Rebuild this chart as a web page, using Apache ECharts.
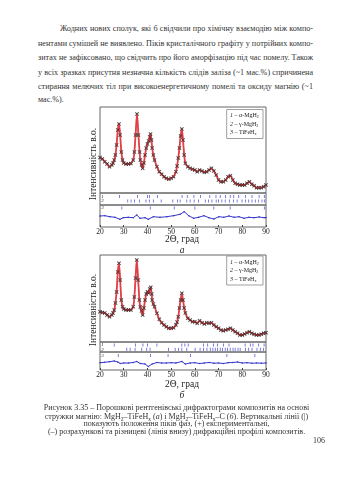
<!DOCTYPE html>
<html><head><meta charset="utf-8">
<script src="https://cdn.jsdelivr.net/npm/echarts@6/dist/echarts.min.js"></script>
<style>
body{margin:0;width:339px;height:480px;background:#fff;overflow:hidden;position:relative;font-family:"Liberation Serif",serif;color:#333}
#chart{position:absolute;left:0;top:0;width:339px;height:480px}
.j{position:absolute;white-space:nowrap;text-align:justify;text-align-last:justify;font-size:8.15px;line-height:10px}
.c{position:absolute;left:20px;width:313px;text-align:center;white-space:nowrap;font-size:8px;line-height:8px}
sub{font-size:5.5px;vertical-align:-1.5px;line-height:0}
</style></head><body>
<div class="j" style="left:60px;width:253px;top:24px">Жодних нових сполук, які б свідчили про хімічну взаємодію між компо-</div>
<div class="j" style="left:38px;width:275px;top:38.5px">нентами сумішей не виявлено. Піків кристалічного графіту у потрійних компо-</div>
<div class="j" style="left:38px;width:275px;top:53px">зитах не зафіксовано, що свідчить про його аморфізацію під час помелу. Також</div>
<div class="j" style="left:38px;width:275px;top:67.7px">у всіх зразках присутня незначна кількість слідів заліза (~1 мас.%) спричинена</div>
<div class="j" style="left:38px;width:275px;top:82px">стирання мелючих тіл при високоенергетичному помелі та оксиду магнію (~1</div>
<div class="j" style="left:38px;top:94.5px;text-align:left;text-align-last:left">мас.%).</div>
<div id="chart"></div>
<div class="c" style="top:404.3px">Рисунок 3.35 – Порошкові рентгенівські дифрактограми композитів на основі</div>
<div class="c" style="top:412.7px">стружки магнію: MgH<sub>2</sub>–TiFeH<sub>x</sub> (<i>а</i>) і MgH<sub>2</sub>–TiFeH<sub>x</sub>–C (<i>б</i>). Вертикальні лінії (|)</div>
<div class="c" style="top:420.3px">показують положення піків фаз, (+) експериментальні,</div>
<div class="c" style="top:428.3px">(–) розрахункові та різницеві (лінія внизу) дифракційні профілі композитів.</div>
<div style="position:absolute;left:313px;top:436.7px;font-size:8px;line-height:8px">106</div>
<script>
// ---- data: panel a (MgH2–TiFeHx) ----
const aTheta = [20,21,22,23,24,25,25.5,26,26.5,27,27.5,28,28.5,29,29.5,30,31,32,33,34,34.5,35,35.6,36.2,36.7,37,37.5,38,38.5,39,39.5,40,40.5,41,41.3,41.7,42,42.5,43,44,45,46,47,48,49,50,51,52,52.5,53,53.5,54,54.5,55,55.5,56,57,58,59,60,61,62,63,64,65,66,67,68,69,70,71,72,73,74,75,76,77,78,79,80,81,82,83,84,85,86,87,88,89,90];
const aObs = [35.5,34,31.3,29,26.3,28,30,33,38,48,63,69,58,41,33,30,29,29,29.5,33,41,58,79,58,41,33,28,24.7,30,38,45,49,52,56,59,53,45,38,33,26.3,21.3,18.7,16.3,14.7,13.7,14.7,16.3,21.3,27,35,45,57,64,53,38,29.7,26.3,24.7,23.7,23,21.3,23,22,20.7,21.3,23,24.7,22,18,13,11.3,11.3,13,16.3,17.3,13,9.7,8.7,8,8,8,9.7,11.3,8.7,7.3,5.3,5.3,5.3,6.3,8];
const aDiffTheta = [20,22,24.2,26.3,28.4,29.8,31.9,34,35.5,36.9,39,40.4,42.5,45.3,48.2,51,53.8,55.5,57.4,59.5,61.6,63.8,65.9,68,70.1,72.2,74.4,76.5,78.6,80.7,82.8,84.9,87.1,89.2,90];
const aDiff = [11,11.3,10.3,9.7,7.7,9.3,9.7,9.3,12,8.7,9.3,7.7,10.3,9.7,10.3,11.3,12.7,15.3,11.3,8.7,9.7,11.3,9.3,8,10.3,9.7,11,9.7,10.3,8.7,9.7,9.3,10,9.3,9.5];
const aPhase1 = [28.2,35.8,40.0,40.9,44.2,54.6,56.8,59.6,62.4,66.3,68.9,70.7,72.9,74.9,76.4,78.5,81.3,84.1,87.1,89.3];
const aPhase2 = [31.7,33.1,34.5,36.6,39.4,40.8,42.5,45.8,50.7,52.7,53.8,56.6,58.0,59.7,61.5,64.4,65.8,67.2,69.0,70.0,71.4,72.8,74.6,76.3,77.8,79.9,81.3,82.7,84.1,85.5,86.9,88.3,89.3];
const aPhase3 = [29.2,41.2,51.3,60.0,68.0,74.9,89.3];
// ---- data: panel b (MgH2–TiFeHx–C) ----
const bTheta = [20,21,22,23,24,25,25.5,26,26.5,27,27.5,28,28.5,29,29.5,30,31,32,33,34,34.5,35,35.5,36.1,36.6,37,37.5,38,38.5,39,39.5,40,40.5,41,41.4,41.8,42,42.5,43,44,45,46,47,48,49,50,51,52,52.5,53,53.5,54,54.5,55,55.5,56,57,58,59,60,61,62,63,64,65,66,67,68,69,70,71,72,73,74,75,76,77,78,79,80,81,82,83,84,85,86,87,88,89,90];
const bObs = [30.3,29.5,29,27,25.3,27,29,32,39,50,70,78.7,62,42,35.3,33,32,32,32,35.3,45,64,82,62,42,35,31,27,34,42,48,50.3,49,53,54.7,48,42,38,35.3,28.7,22.7,19.3,17,15.3,13.7,13.7,14.3,17,20,25.3,34,42,48.7,42,34,29,23.7,22,20.3,20.3,18.7,21.3,19.3,18,19.3,18.7,19.3,17,15.3,13.7,12,11.3,12,12.7,13.7,12,10.3,8.7,7,7,8,9.3,10.3,8.7,7.7,7,7,7.7,8.7,9.3];
const bDiffTheta = [20,22,24,26,27.5,28.5,30,32,34,35.5,37,39,40.4,42,44,46,48,50,52,54.5,56,58,60,62,64,66,68,70,72,74,76,78,80,82,84,86,88,90];
const bDiff = [7.3,7.7,8.3,9,8,6.5,7,7,7.5,8.5,6.5,6,3.5,6,7.5,7,7,7.3,7,8.5,6,7,7.3,6.5,7,7.5,6.8,7,6.5,7.3,7.5,8,7,7.3,6.8,7,6.8,7];
const bPhase1 = [26.0,35.0,38.1,40.0,44.0,54.5,55.8,57.2,63.6,65.4,67.9,69.6,72.1,74.4,81.2,83.4,84.5,86.9,89.2];
const bPhase2 = [31.3,32.7,34.8,37.6,39.7,41.1,48.9,51.7,53.1,54.5,56.6,60.1,62.2,63.6,65.1,66.5,67.6,68.6,69.6,70.7,71.7,72.8,73.8,74.9,76.1,77.0,78.2,79.1,81.3,82.7,84.1,86.2,87.6,89.0];
const bPhase3 = [27.7,41.3,48.7,58.2,73.5,85.3];
const xTicks = [20,30,40,50,60,70,80,90];
const legendLines = ['{i|1} – α-MgH{s|2}','{i|2} – γ-MgH{s|2}','{i|3} – TiFeH{s|x}'];

const zip = (xs, ys) => xs.map((x, i) => [x, ys[i]]);
const rowAt = (xs, y) => xs.map(x => [x, y]);
const SERIF = '"Liberation Serif", serif';
const BLUE = '#3535c8';
const CROSS = 'path://M4,0H6V4H10V6H6V10H4V6H0V4H4Z';

const grids = [
  {top:107,height:86},{top:193,height:12},{top:205,height:22},
  {top:255,height:87},{top:342,height:10},{top:352,height:18}
].map(g => Object.assign({left:100,width:166,show:true,borderColor:'#666',borderWidth:1,backgroundColor:'transparent'}, g));
const yMax = [86,12,22,87,10,18];
const xAxes = grids.map((g, i) => ({
  gridIndex:i, type:'value', min:xTicks[0], max:xTicks[xTicks.length-1], interval:10,
  axisLine:{show:false}, splitLine:{show:false},
  axisTick:{show:i===2||i===5, inside:true, length:2, lineStyle:{color:'#444'}},
  axisLabel:{show:i===2||i===5, fontFamily:SERIF, fontSize:7.5, color:'#222', margin:1.5}
}));
const yAxes = yMax.map((m, i) => ({gridIndex:i, type:'value', min:0, max:m, show:false}));

function panel(gi, theta, obs, dTheta, diff, p1, p2, p3, r1, r2, r3) {
  const tick = (data, xi, y) => ({type:'scatter', xAxisIndex:xi, yAxisIndex:xi, data:rowAt(data, y),
    symbol:'rect', symbolSize:[0.8,3.2], itemStyle:{color:BLUE}, silent:true, z:3});
  return [
    {type:'line', xAxisIndex:gi, yAxisIndex:gi, data:zip(theta, obs), smooth:0.25, showSymbol:false,
      lineStyle:{color:'#e0464c', width:1.8}, z:2, silent:true},
    {type:'scatter', xAxisIndex:gi, yAxisIndex:gi, data:zip(theta, obs), symbol:CROSS, symbolRotate:45,
      symbolSize:4.8, itemStyle:{color:'#222'}, z:3, silent:true},
    {type:'line', xAxisIndex:gi, yAxisIndex:gi, data:zip(theta, obs), smooth:0.25, showSymbol:false,
      lineStyle:{color:'#e23a40', width:0.7, opacity:0.8}, z:4, silent:true},
    tick(p1, gi+1, r1), tick(p2, gi+1, r2), tick(p3, gi+2, r3),
    {type:'line', xAxisIndex:gi+2, yAxisIndex:gi+2, data:zip(dTheta, diff), showSymbol:true, symbol:'circle',
      symbolSize:1.6, itemStyle:{color:BLUE}, lineStyle:{color:BLUE, width:1}, z:3, silent:true}
  ];
}

const series = [].concat(
  panel(0, aTheta, aObs, aDiffTheta, aDiff, aPhase1, aPhase2, aPhase3, 8.5, 4, 19),
  panel(3, bTheta, bObs, bDiffTheta, bDiff, bPhase1, bPhase2, bPhase3, 7, 2.7, 14.5)
);

function txt(x, y, text, font, rot) {
  const t = {type:'text', x:x, y:y, z:20, style:{text:text, font:font, fill:'#222', align:'center', verticalAlign:'middle'}};
  if (rot) t.rotation = rot;
  return t;
}
function legend(top) {
  const items = [{type:'rect', shape:{x:226.7, y:top, width:36.3, height:29}, style:{fill:'#fff', stroke:'#888', lineWidth:0.8}, z:15}];
  legendLines.forEach((t, i) => items.push({type:'text', x:230, y:top+6+i*8.5, z:20, style:{
    text:t, font:'6px '+SERIF, fill:'#222', align:'left', verticalAlign:'middle',
    rich:{i:{fontStyle:'italic', fontSize:6, fontFamily:SERIF}, s:{fontSize:4, fontFamily:SERIF, padding:[3,0,0,0]}}}}));
  return items;
}
const graphic = [].concat(
  legend(109.5), legend(256),
  [
    txt(93, 164, 'Інтенсивність в.о.', '9.5px '+SERIF, Math.PI/2),
    txt(93, 310, 'Інтенсивність в.о.', '9.5px '+SERIF, Math.PI/2),
    txt(182, 239.5, '2Θ, град', '9.5px '+SERIF), txt(182, 384, '2Θ, град', '9.5px '+SERIF),
    txt(182, 250, 'а', 'italic 9.5px '+SERIF), txt(182, 395.5, 'б', 'italic 9.5px '+SERIF),
    txt(102.5, 196.5, '1', 'italic 5px '+SERIF), txt(102.5, 201, '2', 'italic 5px '+SERIF), txt(102.5, 208, '3', 'italic 5px '+SERIF),
    txt(102.5, 345, '1', 'italic 5px '+SERIF), txt(102.5, 349.3, '2', 'italic 5px '+SERIF), txt(102.5, 355.5, '3', 'italic 5px '+SERIF)
  ]
);

const chart = echarts.init(document.getElementById('chart'), null, {renderer:'canvas'});
chart.setOption({animation:false, grid:grids, xAxis:xAxes, yAxis:yAxes, series:series, graphic:graphic});
</script>
</body></html>
